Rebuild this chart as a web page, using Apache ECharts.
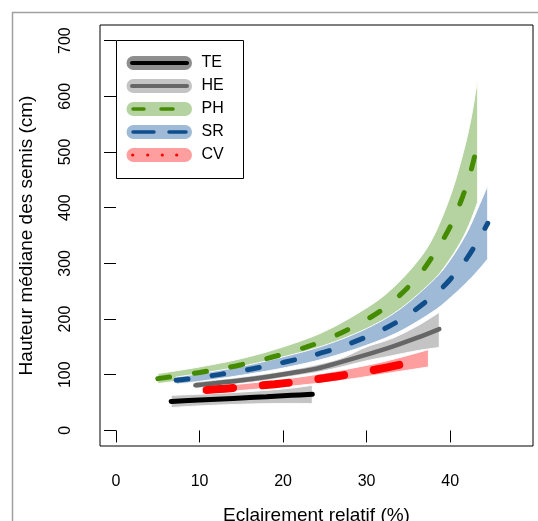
<!DOCTYPE html>
<html>
<head>
<meta charset="utf-8">
<script src="https://cdn.jsdelivr.net/npm/echarts@6/dist/echarts.min.js"></script>
<style>html,body{margin:0;padding:0;background:#fff}#c{width:538px;height:521px}</style>
</head>
<body>
<div id="c"></div>
<script>
// ---- data ----
const xTicks = [0, 10, 20, 30, 40];
const yTicks = [0, 100, 200, 300, 400, 500, 600, 700];

const TE_x   = [6.6, 10, 14, 18, 21, 23.5];
const TE_mid = [52, 54.5, 57.5, 60.5, 63, 65];
const TE_lo  = [41, 44, 46.5, 48, 48.5, 48];
const TE_hi  = [63, 65, 68, 72, 76, 81];

const HE_x   = [9.5, 12, 15, 18, 21, 24, 27, 30, 33, 36, 38.7];
const HE_mid = [81, 85, 90, 96, 103, 111, 123, 136, 150, 166, 182];
const HE_lo  = [75, 79, 84, 90, 97, 104, 114, 125, 134, 143, 149];
const HE_hi  = [88, 91, 96, 102, 109, 118, 130, 150, 165, 187, 212];

const PH_x   = [5, 10, 15, 20, 25, 30, 33, 36, 38, 40, 41.5, 42.5, 43.3];
const PH_mid = [93, 104, 118, 137, 162, 199, 230, 274, 315, 366, 420, 467, 516];
const PH_lo  = [84, 94, 106, 122, 143, 176, 202, 238, 268, 308, 345, 378, 410];
const PH_hi  = [102, 114, 129, 150, 178, 220, 254, 302, 348, 420, 495, 560, 632];

const SR_x   = [7.2, 10, 15, 20, 25, 30, 34, 38, 40, 42, 43.5, 44.5];
const SR_mid = [90, 95, 107, 122, 141, 168, 198, 242, 271, 309, 345, 372];
const SR_lo  = [83, 88, 99, 112, 129, 153, 178, 214, 238, 266, 290, 308];
const SR_hi  = [96, 102, 115, 132, 153, 183, 218, 270, 306, 355, 405, 440];

const CV_x   = [10.3, 13, 16, 19, 22, 25, 28, 31, 34, 37.4];
const CV_mid = [72, 75, 79, 83, 88, 94, 101, 109, 118, 130];
const CV_lo  = [66, 69, 73, 77, 81, 86, 92, 99, 106, 114];
const CV_hi  = [78, 81, 85, 90, 96, 103, 111, 120, 131, 145];

const names = ['TE', 'HE', 'PH', 'SR', 'CV'];
const groups = {
  TE: {x: TE_x, mid: TE_mid, lo: TE_lo, hi: TE_hi},
  HE: {x: HE_x, mid: HE_mid, lo: HE_lo, hi: HE_hi},
  PH: {x: PH_x, mid: PH_mid, lo: PH_lo, hi: PH_hi},
  SR: {x: SR_x, mid: SR_mid, lo: SR_lo, hi: SR_hi},
  CV: {x: CV_x, mid: CV_mid, lo: CV_lo, hi: CV_hi}
};

// ---- styles ----
const bandColor = {TE: '#c4c4c4', HE: '#c4c4c4', PH: '#b5d3a0', SR: '#9fbad6', CV: '#ff9e9e'};
const legendBand = {TE: '#8e8e8e', HE: '#c4c4c4', PH: '#b5d3a0', SR: '#9fbad6', CV: '#ff9e9e'};
const lineStyles = {
  TE: {color: '#000000', width: 5, type: 'solid', cap: 'round'},
  HE: {color: '#666666', width: 4.5, type: 'solid', cap: 'round'},
  PH: {color: '#458b00', width: 5, type: [12, 25], cap: 'round'},
  SR: {color: '#104e8b', width: 5, type: [12, 24], cap: 'round'},
  CV: {color: '#ff0000', width: 8, type: [26, 30], dashOffset: -5, cap: 'round'}
};

// Catmull-Rom smoothing of pixel points (drawing only)
function smoothPts(p) {
  const out = [];
  const n = p.length;
  for (let i = 0; i < n - 1; i++) {
    const p0 = p[Math.max(0, i - 1)], p1 = p[i], p2 = p[i + 1], p3 = p[Math.min(n - 1, i + 2)];
    const c1 = [p1[0] + (p2[0] - p0[0]) / 6, p1[1] + (p2[1] - p0[1]) / 6];
    const c2 = [p2[0] - (p3[0] - p1[0]) / 6, p2[1] - (p3[1] - p1[1]) / 6];
    const steps = 12;
    for (let s = 0; s < steps; s++) {
      const t = s / steps, u = 1 - t;
      out.push([
        u*u*u*p1[0] + 3*u*u*t*c1[0] + 3*u*t*t*c2[0] + t*t*t*p2[0],
        u*u*u*p1[1] + 3*u*u*t*c1[1] + 3*u*t*t*c2[1] + t*t*t*p2[1]
      ]);
    }
  }
  out.push(p[n - 1]);
  return out;
}

const series = [];
names.forEach((k, i) => {
  const g = groups[k];
  series.push({
    type: 'custom', name: k + '_band', silent: true, z: 1 + i * 0.01,
    data: g.x.map((x, j) => [x, g.lo[j], g.hi[j]]),
    encode: {x: 0, y: [1, 2]},
    renderItem: function (params, api) {
      if (params.dataIndex !== 0) return null;
      const up = smoothPts(g.x.map((x, j) => api.coord([x, g.hi[j]])));
      const lo = smoothPts(g.x.map((x, j) => api.coord([x, g.lo[j]])));
      return {
        type: 'polygon',
        shape: {points: up.concat(lo.reverse())},
        style: {fill: bandColor[k], stroke: '#ffffff', lineWidth: 1}
      };
    }
  });
});
names.forEach((k, i) => {
  const g = groups[k];
  series.push({
    type: 'line', name: k, smooth: 0.35, showSymbol: false, silent: true,
    data: g.x.map((x, j) => [x, g.mid[j]]),
    lineStyle: lineStyles[k], z: 3 + i * 0.01
  });
});

// ---- legend & titles drawn with graphic elements ----
const FONT = '"Liberation Sans", Arial, Helvetica, sans-serif';
const legY = [63, 86, 109, 132, 155];
const graphic = [
  {type: 'rect', shape: {x: 12.5, y: 12.5, width: 700, height: 700}, style: {fill: 'none', stroke: '#a0a0a0', lineWidth: 1.5}, z: 0, silent: true},
  {type: 'rect', shape: {x: 116.5, y: 40.5, width: 127, height: 138}, style: {fill: '#fff', stroke: '#000', lineWidth: 1}, z: 10},
  {type: 'text', x: 27, y: 235.5, rotation: Math.PI / 2,
   style: {text: 'Hauteur médiane des semis (cm)', font: '19px ' + FONT, fill: '#000', textAlign: 'center', verticalAlign: 'middle', textVerticalAlign: 'middle'}, z: 10},
  {type: 'text', x: 316.5, y: 516,
   style: {text: 'Eclairement relatif (%)', font: '19px ' + FONT, fill: '#000', textAlign: 'center', verticalAlign: 'middle', textVerticalAlign: 'middle'}, z: 10}
];
names.forEach((k, i) => {
  const y = legY[i];
  graphic.push({type: 'line', shape: {x1: 133.5, y1: y, x2: 185, y2: y}, style: {stroke: legendBand[k], lineWidth: 14, lineCap: 'round'}, z: 11});
  const ls = lineStyles[k];
  if (k === 'TE' || k === 'HE') {
    graphic.push({type: 'line', shape: {x1: 132, y1: y, x2: 187, y2: y}, style: {stroke: ls.color, lineWidth: 4, lineCap: 'round'}, z: 12});
  } else if (k === 'PH') {
    graphic.push({type: 'line', shape: {x1: 133, y1: y, x2: 144, y2: y}, style: {stroke: ls.color, lineWidth: 3.5, lineCap: 'round'}, z: 12});
    graphic.push({type: 'line', shape: {x1: 161, y1: y, x2: 173, y2: y}, style: {stroke: ls.color, lineWidth: 3.5, lineCap: 'round'}, z: 12});
  } else if (k === 'SR') {
    graphic.push({type: 'line', shape: {x1: 133, y1: y, x2: 154, y2: y}, style: {stroke: ls.color, lineWidth: 3.5, lineCap: 'round'}, z: 12});
    graphic.push({type: 'line', shape: {x1: 169, y1: y, x2: 186, y2: y}, style: {stroke: ls.color, lineWidth: 3.5, lineCap: 'round'}, z: 12});
  } else {
    [132.7, 147.7, 162.3, 176.7].forEach(cx => graphic.push({type: 'circle', shape: {cx: cx, cy: y, r: 1.6}, style: {fill: ls.color}, z: 12}));
  }
  graphic.push({type: 'text', x: 201.5, y: y,
    style: {text: k, font: '16px ' + FONT, fill: '#000', textAlign: 'left', verticalAlign: 'middle', textVerticalAlign: 'middle'}, z: 12});
});

const chart = echarts.init(document.getElementById('c'), null, {renderer: 'canvas'});
chart.setOption({
  animation: false,
  backgroundColor: '#fff',
  grid: {left: 100, top: 25, right: 5, bottom: 75, show: true, borderColor: '#000', borderWidth: 1, backgroundColor: 'transparent'},
  xAxis: {
    type: 'value', min: -1.92, max: 49.92,
    axisLine: {show: false},
    splitLine: {show: false},
    axisTick: {show: true, length: 12, inside: false, customValues: xTicks, lineStyle: {color: '#000', width: 1}},
    axisLabel: {show: true, customValues: xTicks, margin: 28, fontSize: 16, color: '#000', fontFamily: FONT}
  },
  yAxis: {
    type: 'value', min: -28, max: 728,
    axisLine: {show: false},
    splitLine: {show: false},
    axisTick: {show: true, length: 12, inside: false, customValues: yTicks, lineStyle: {color: '#000', width: 1}},
    axisLabel: {show: true, customValues: yTicks, rotate: 90, margin: 26, fontSize: 16, color: '#000', fontFamily: FONT}
  },
  graphic: graphic,
  series: series
});
</script>
</body>
</html>
